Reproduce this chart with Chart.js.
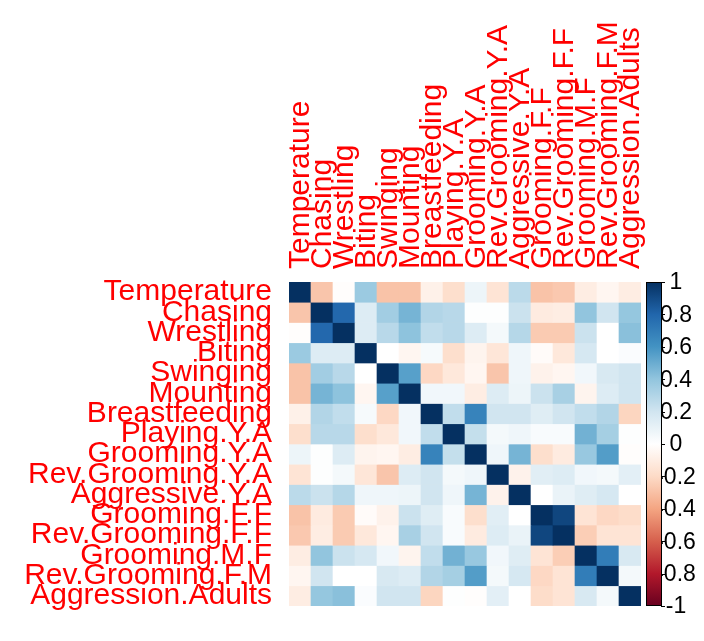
<!DOCTYPE html>
<html>
<head>
<meta charset="utf-8">
<script src="https://cdn.jsdelivr.net/npm/chart.js@4"></script>
<style>
  html, body { margin: 0; background: #fff; }
  #wrap { width: 704px; height: 641px; }
</style>
</head>
<body>
<div id="wrap"><canvas id="myChart"></canvas></div>
<script>
// variable names (rows = columns)
const vars = ['Temperature', 'Chasing', 'Wrestling', 'Biting', 'Swinging', 'Mounting', 'Breastfeeding',
  'Playing.Y.A', 'Grooming.Y.A', 'Rev.Grooming.Y.A', 'Aggressive.Y.A', 'Grooming.F.F',
  'Rev.Grooming.F.F', 'Grooming.M.F', 'Rev.Grooming.F.M', 'Aggression.Adults'];

// correlation rows
const temperature      = [1, -0.28, -0.01, 0.37, -0.29, -0.29, -0.08, -0.18, 0.08, -0.15, 0.27, -0.29, -0.27, -0.10, -0.05, -0.10];
const chasing          = [-0.28, 1, 0.79, 0.15, 0.35, 0.47, 0.30, 0.28, 0.01, 0.01, 0.22, -0.11, -0.10, 0.40, 0.20, 0.39];
const wrestling        = [-0.01, 0.79, 1, 0.15, 0.28, 0.41, 0.25, 0.28, 0.15, 0.05, 0.29, -0.26, -0.26, 0.22, 0.00, 0.42];
const biting           = [0.37, 0.15, 0.15, 1, 0.00, -0.05, 0.04, -0.18, -0.06, -0.14, 0.07, -0.02, -0.13, 0.18, 0.00, 0.02];
const swinging         = [-0.29, 0.35, 0.28, 0.00, 1, 0.55, -0.21, -0.13, -0.05, -0.28, 0.07, -0.07, -0.05, 0.06, 0.17, 0.20];
const mounting         = [-0.29, 0.47, 0.41, -0.05, 0.55, 1, 0.06, 0.06, -0.10, 0.15, 0.08, 0.22, 0.33, -0.06, 0.15, 0.20];
const breastfeeding    = [-0.08, 0.30, 0.25, 0.04, -0.21, 0.06, 1, 0.25, 0.67, 0.20, 0.20, 0.14, 0.20, 0.25, 0.30, -0.22];
const playingYA        = [-0.18, 0.28, 0.28, -0.18, -0.13, 0.06, 0.25, 1, 0.24, 0.05, 0.07, 0.03, 0.03, 0.48, 0.34, 0.01];
const groomingYA       = [0.08, 0.01, 0.15, -0.06, -0.05, -0.10, 0.67, 0.24, 1, 0.07, 0.47, -0.18, -0.11, 0.38, 0.56, -0.01];
const revGroomingYA    = [-0.15, 0.01, 0.05, -0.14, -0.28, 0.15, 0.20, 0.05, 0.07, 1, -0.07, 0.13, 0.15, 0.06, 0.05, 0.12];
const aggressiveYA     = [0.27, 0.22, 0.29, 0.07, 0.07, 0.08, 0.20, 0.07, 0.47, -0.07, 1, 0.00, 0.09, 0.14, 0.18, 0.00];
const groomingFF       = [-0.29, -0.11, -0.26, -0.02, -0.07, 0.22, 0.14, 0.03, -0.18, 0.13, 0.00, 1, 0.92, -0.15, -0.21, -0.19];
const revGroomingFF    = [-0.27, -0.10, -0.26, -0.13, -0.05, 0.33, 0.20, 0.03, -0.11, 0.15, 0.09, 0.92, 1, -0.25, -0.15, -0.15];
const groomingMF       = [-0.10, 0.40, 0.22, 0.18, 0.06, -0.06, 0.25, 0.48, 0.38, 0.06, 0.14, -0.15, -0.25, 1, 0.70, 0.17];
const revGroomingFM    = [-0.05, 0.20, 0.00, 0.00, 0.17, 0.15, 0.30, 0.34, 0.56, 0.05, 0.18, -0.21, -0.15, 0.70, 1, 0.05];
const aggressionAdults = [-0.10, 0.39, 0.42, 0.02, 0.20, 0.20, -0.22, 0.01, -0.01, 0.12, 0.00, -0.19, -0.15, 0.17, 0.05, 1];

const rows = [temperature, chasing, wrestling, biting, swinging, mounting, breastfeeding, playingYA,
  groomingYA, revGroomingYA, aggressiveYA, groomingFF, revGroomingFF, groomingMF, revGroomingFM, aggressionAdults];

// colour legend ticks
const cbTicks  = [1, 0.8, 0.6, 0.4, 0.2, 0, -0.2, -0.4, -0.6, -0.8, -1];
const cbLabels = ['1', '0.8', '0.6', '0.4', '0.2', '0', '-0.2', '-0.4', '-0.6', '-0.8', '-1'];

// RdBu, from -1 to 1
const rdbu = ['#67001F', '#B2182B', '#D6604D', '#F4A582', '#FDDBC7', '#FFFFFF',
  '#D1E5F0', '#92C5DE', '#4393C3', '#2166AC', '#053061'];

function hex(c) {
  return [parseInt(c.slice(1, 3), 16), parseInt(c.slice(3, 5), 16), parseInt(c.slice(5, 7), 16)];
}
function corrColor(v) {
  const p = (Math.max(-1, Math.min(1, v)) + 1) / 2 * (rdbu.length - 1);
  const i = Math.min(Math.floor(p), rdbu.length - 2);
  const t = p - i;
  const a = hex(rdbu[i]), b = hex(rdbu[i + 1]);
  const m = a.map((x, k) => Math.round(x + (b[k] - x) * t));
  return 'rgb(' + m.join(',') + ')';
}

const labelFont = { family: 'Liberation Sans, Arial, sans-serif', size: 30 };

const colorBar = {
  id: 'colorBar',
  afterDraw(chart) {
    const ctx = chart.ctx;
    const cb = chart.scales.cb;
    const top = cb.getPixelForValue(1);
    const bottom = cb.getPixelForValue(-1);
    const x0 = chart.chartArea.right + 5;
    const w = 15;
    ctx.save();
    // labels first, the bar sits over their left edge like in corrplot
    ctx.fillStyle = '#000';
    ctx.font = '23px "Liberation Sans", Arial, sans-serif';
    ctx.textAlign = 'center';
    ctx.textBaseline = 'middle';
    cbTicks.forEach((v, i) => {
      ctx.fillText(cbLabels[i], x0 + w + 15, cb.getPixelForValue(v) + 1);
    });
    const g = ctx.createLinearGradient(0, top, 0, bottom);
    rdbu.slice().reverse().forEach((c, i) => g.addColorStop(i / (rdbu.length - 1), c));
    ctx.fillStyle = g;
    ctx.fillRect(x0, top, w, bottom - top);
    ctx.strokeStyle = '#000';
    ctx.lineWidth = 1;
    ctx.strokeRect(x0 + 0.5, top + 0.5, w, bottom - top - 1);
    cbTicks.forEach(v => {
      const y = Math.round(cb.getPixelForValue(v)) + 0.5;
      ctx.beginPath();
      ctx.moveTo(x0 + w, y);
      ctx.lineTo(x0 + w + 4, y);
      ctx.stroke();
    });
    ctx.restore();
  }
};

const ctx = document.getElementById('myChart');
new Chart(ctx, {
  type: 'bar',
  data: {
    labels: vars,
    datasets: rows.map((row, i) => ({
      label: vars[i],
      data: row.map(() => 1),
      backgroundColor: row.map(corrColor),
      borderWidth: 0,
      barPercentage: 1,
      categoryPercentage: 1,
      xAxisID: 'x',
      yAxisID: 'y'
    }))
  },
  options: {
    responsive: true,
    maintainAspectRatio: false,
    animation: false,
    layout: { padding: { left: 0, top: 0, right: 63, bottom: 7 } },
    plugins: { legend: { display: false }, tooltip: { enabled: false } },
    scales: {
      x: {
        type: 'category',
        position: 'top',
        stacked: true,
        offset: true,
        grid: { display: false, drawTicks: false },
        border: { display: false },
        ticks: { color: 'red', font: labelFont, minRotation: 90, maxRotation: 90, autoSkip: false, padding: 13, labelOffset: 37 },
        afterFit(s) { s.height = 282; }
      },
      y: { type: 'linear', stacked: true, reverse: true, min: 0, max: 16, display: false },
      yl: {
        type: 'category',
        labels: vars,
        position: 'left',
        offset: true,
        grid: { display: false, drawTicks: false },
        border: { display: false },
        ticks: { color: 'red', font: labelFont, padding: 17, autoSkip: false },
        afterFit(s) { s.width = 289; }
      },
      cb: { type: 'linear', min: -1, max: 1, display: false, position: 'right' }
    }
  },
  plugins: [colorBar]
});
</script>
</body>
</html>
